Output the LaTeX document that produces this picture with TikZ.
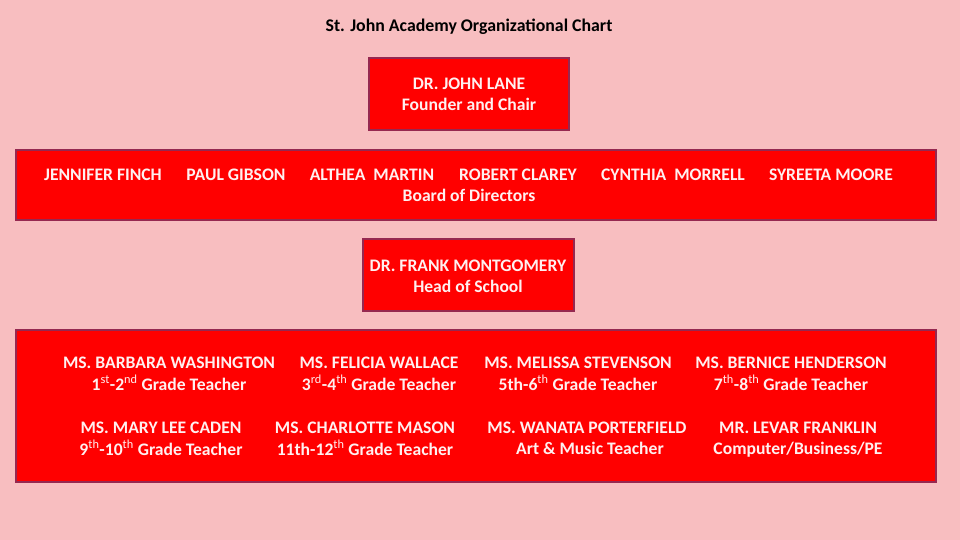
\documentclass[tikz,border=0pt]{standalone}
\usepackage{fontspec}
\setmainfont{Carlito}
\definecolor{bgpink}{RGB}{248,190,192}
\definecolor{boxred}{RGB}{255,0,0}
\definecolor{boxedge}{RGB}{150,40,80}
\definecolor{txtwhite}{RGB}{255,240,240}
\newcommand{\sq}[1]{\textsuperscript{\mdseries #1}}
\tikzset{
  x=1pt,y=-1pt,
  panel/.style={draw=boxedge, line width=1.2pt, fill=boxred},
  lbl/.style={text=txtwhite, font=\bfseries\fontsize{17.6}{21}\selectfont, align=center, inner sep=0pt},
}
\begin{document}
\begin{tikzpicture}
\fill[bgpink] (0,0) rectangle (960,540);
\useasboundingbox (0,0) rectangle (960,540);
\node[font=\bfseries\fontsize{17.8}{21}\selectfont, inner sep=0pt] (title) at (469,27) {St. John Academy Organizational Chart};

\draw[panel] (369,58) rectangle (569,130);
\node[lbl] (lane) at (469,95.5) {\strut DR. JOHN LANE\\\strut Founder and Chair};

\draw[panel] (16,150) rectangle (936,220);
\node[lbl] (finch) at (103,176) {\strut JENNIFER FINCH};
\node[lbl] (gibson) at (236,176) {\strut PAUL GIBSON};
\node[lbl] (martin) at (372,176) {\strut ALTHEA\ \ MARTIN};
\node[lbl] (clarey) at (518,176) {\strut ROBERT CLAREY};
\node[lbl] (morrell) at (673,176) {\strut CYNTHIA\ \ MORRELL};
\node[lbl] (moore) at (831,176) {\strut SYREETA MOORE};
\node[lbl] (board) at (469,197) {\strut Board of Directors};

\draw[panel] (363,239) rectangle (574,311);
\node[lbl] (montgomery) at (468,277.5) {\strut DR. FRANK MONTGOMERY\\\strut Head of School};

\draw[panel] (16,330) rectangle (936,482);
\node[lbl] (washington) at (169,375) {\strut MS. BARBARA WASHINGTON\\\strut 1\sq{st}-2\sq{nd} Grade Teacher};
\node[lbl] (wallace) at (379,375) {\strut MS. FELICIA WALLACE\\\strut 3\sq{rd}-4\sq{th} Grade Teacher};
\node[lbl] (stevenson) at (578,375) {\strut MS. MELISSA STEVENSON\\\strut 5th-6\sq{th} Grade Teacher};
\node[lbl] (henderson) at (791,375) {\strut MS. BERNICE HENDERSON\\\strut 7\sq{th}-8\sq{th} Grade Teacher};
\node[lbl] (caden) at (161,440) {\strut MS. MARY LEE CADEN\\\strut 9\sq{th}-10\sq{th} Grade Teacher};
\node[lbl] (mason) at (365,440) {\strut MS. CHARLOTTE MASON\\\strut 11th-12\sq{th} Grade Teacher};
\node[lbl] (porterfield) at (587,440) {\strut MS. WANATA PORTERFIELD\\\strut\hspace*{6pt}Art \& Music Teacher};
\node[lbl] (franklin) at (798,440) {\strut MR. LEVAR FRANKLIN\\\strut Computer/Business/PE};
\end{tikzpicture}
\end{document}
